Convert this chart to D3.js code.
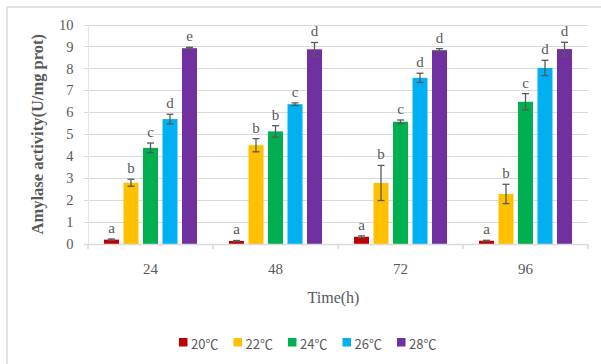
<!DOCTYPE html>
<html>
<head>
<meta charset="utf-8">
<script src="https://cdn.jsdelivr.net/npm/d3@7"></script>
<style>
  html, body { margin: 0; padding: 0; background: #fff; }
  svg { display: block; }
</style>
</head>
<body>
<svg id="chart" width="601" height="364"></svg>
<script>
// Sampling times (h) and incubation temperatures
const times = ["24", "48", "72", "96"];
const temps = ["20℃", "22℃", "24℃", "26℃", "28℃"];
const colors = ["#C00000", "#FFC000", "#00B050", "#00B0F0", "#7030A0"];

// Amylase activity (U/mg prot), one array per temperature, ordered by time
const act20 = [0.20, 0.14, 0.33, 0.15];
const act22 = [2.79, 4.50, 2.78, 2.28];
const act24 = [4.38, 5.13, 5.57, 6.48];
const act26 = [5.69, 6.37, 7.57, 8.02];
const act28 = [8.92, 8.87, 8.83, 8.88];

// Standard deviations
const sd20 = [0.03, 0.02, 0.04, 0.02];
const sd22 = [0.16, 0.30, 0.80, 0.44];
const sd24 = [0.22, 0.26, 0.08, 0.37];
const sd26 = [0.22, 0.06, 0.21, 0.35];
const sd28 = [0.04, 0.31, 0.07, 0.31];

// Significance letters
const sig20 = ["a", "a", "a", "a"];
const sig22 = ["b", "b", "b", "b"];
const sig24 = ["c", "b", "c", "c"];
const sig26 = ["d", "c", "d", "d"];
const sig28 = ["e", "d", "d", "d"];

const yTicks = [0, 1, 2, 3, 4, 5, 6, 7, 8, 9, 10];

const values = [act20, act22, act24, act26, act28];
const errors = [sd20, sd22, sd24, sd26, sd28];
const letters = [sig20, sig22, sig24, sig26, sig28];

const rows = [];
temps.forEach((t, si) => {
  times.forEach((h, ti) => {
    rows.push({ temp: t, time: h, si, v: values[si][ti], e: errors[si][ti], s: letters[si][ti] });
  });
});

const svg = d3.select("#chart");
const serif = "'Liberation Serif', 'Times New Roman', serif";
const textGray = "#595959";

// Chart frame
svg.append("line").attr("x1", 7).attr("x2", 7).attr("y1", 7).attr("y2", 364)
  .attr("stroke", "#d9d9d9").attr("stroke-width", 1.5);
svg.append("line").attr("x1", 7).attr("x2", 601).attr("y1", 7).attr("y2", 7)
  .attr("stroke", "#d9d9d9").attr("stroke-width", 1.5);

const plot = { left: 88, right: 588, top: 24.5, bottom: 244 };

const x0 = d3.scaleBand().domain(times).range([plot.left, plot.right]).padding(0);
const x1 = d3.scaleBand().domain(temps).range([0, x0.bandwidth()])
  .paddingInner(0.23).paddingOuter(0.82);
const y = d3.scaleLinear().domain([0, 10]).range([plot.bottom, plot.top]);

// Horizontal gridlines
svg.append("g").selectAll("line").data(yTicks.filter(d => d > 0)).join("line")
  .attr("x1", plot.left - 4).attr("x2", plot.right)
  .attr("y1", d => Math.round(y(d)) + 0.5).attr("y2", d => Math.round(y(d)) + 0.5)
  .attr("stroke", "#d9d9d9").attr("stroke-width", 1);

// Vertical axis line
svg.append("line").attr("x1", plot.left + 0.5).attr("x2", plot.left + 0.5)
  .attr("y1", plot.top).attr("y2", plot.bottom)
  .attr("stroke", "#e8e6da").attr("stroke-width", 1);

// Y axis labels
const yAxis = d3.axisLeft(y).tickValues(yTicks).tickSize(0).tickPadding(14.5);
const gy = svg.append("g").attr("transform", `translate(${plot.left},0)`).call(yAxis);
gy.select(".domain").remove();
gy.selectAll("text").attr("font-family", serif).attr("font-size", 14.5).attr("fill", textGray);

// Bars
const bars = svg.append("g");
bars.selectAll("rect").data(rows).join("rect")
  .attr("x", d => x0(d.time) + x1(d.temp))
  .attr("width", x1.bandwidth())
  .attr("y", d => y(d.v))
  .attr("height", d => y(0) - y(d.v))
  .attr("fill", d => colors[d.si]);

// Category axis
const xAxis = d3.axisBottom(x0).tickSize(0).tickPadding(19);
const gx = svg.append("g").attr("transform", `translate(0,${plot.bottom})`).call(xAxis);
gx.select(".domain").attr("stroke", "#d9d9d9").attr("stroke-width", 1.5)
  .attr("d", `M${plot.left - 4},0.5H${plot.right}`);
gx.selectAll("text").attr("font-family", serif).attr("font-size", 15).attr("fill", textGray);
// Tick marks at category boundaries
const bounds = times.map(t => x0(t)).concat([plot.right]);
gx.append("g").selectAll("line").data(bounds).join("line")
  .attr("x1", d => d).attr("x2", d => d).attr("y1", 0).attr("y2", 5)
  .attr("stroke", "#d9d9d9").attr("stroke-width", 1.5);

// Error bars
const eb = svg.append("g").attr("stroke", "#595959").attr("stroke-width", 1.3).attr("fill", "none");
const cap = 3.5;
rows.forEach(d => {
  const cx = x0(d.time) + x1(d.temp) + x1.bandwidth() / 2;
  const yt = y(d.v + d.e), yb = y(d.v - d.e);
  eb.append("line").attr("x1", cx).attr("x2", cx).attr("y1", yt).attr("y2", yb);
  eb.append("line").attr("x1", cx - cap).attr("x2", cx + cap).attr("y1", yt).attr("y2", yt);
  eb.append("line").attr("x1", cx - cap).attr("x2", cx + cap).attr("y1", yb).attr("y2", yb);
});

// Significance letters
svg.append("g").selectAll("text").data(rows).join("text")
  .attr("x", d => x0(d.time) + x1(d.temp) + x1.bandwidth() / 2)
  .attr("y", d => y(d.v + d.e) - 6)
  .attr("text-anchor", "middle")
  .attr("font-family", serif).attr("font-size", 15).attr("fill", textGray)
  .text(d => d.s);

// Axis titles
svg.append("text")
  .attr("transform", `translate(43,${(plot.top + plot.bottom) / 2}) rotate(-90)`)
  .attr("text-anchor", "middle")
  .attr("font-family", serif).attr("font-size", 16.5).attr("font-weight", "bold").attr("fill", textGray)
  .text("Amylase activity(U/mg prot)");

svg.append("text")
  .attr("x", 333.5).attr("y", 303)
  .attr("text-anchor", "middle")
  .attr("font-family", serif).attr("font-size", 16).attr("fill", textGray)
  .text("Time(h)");

// Legend
const legend = svg.append("g").attr("transform", "translate(179,338)");
const item = legend.selectAll("g").data(temps).join("g")
  .attr("transform", (d, i) => `translate(${i * 54.5},0)`);
item.append("rect").attr("width", 8.5).attr("height", 8.5)
  .attr("fill", (d, i) => colors[i]);
item.append("text").attr("x", 12).attr("y", 11)
  .attr("font-family", "'Noto Sans CJK SC', 'Noto Sans', sans-serif").attr("font-size", 13)
  .attr("fill", textGray)
  .text(d => d);
</script>
</body>
</html>
